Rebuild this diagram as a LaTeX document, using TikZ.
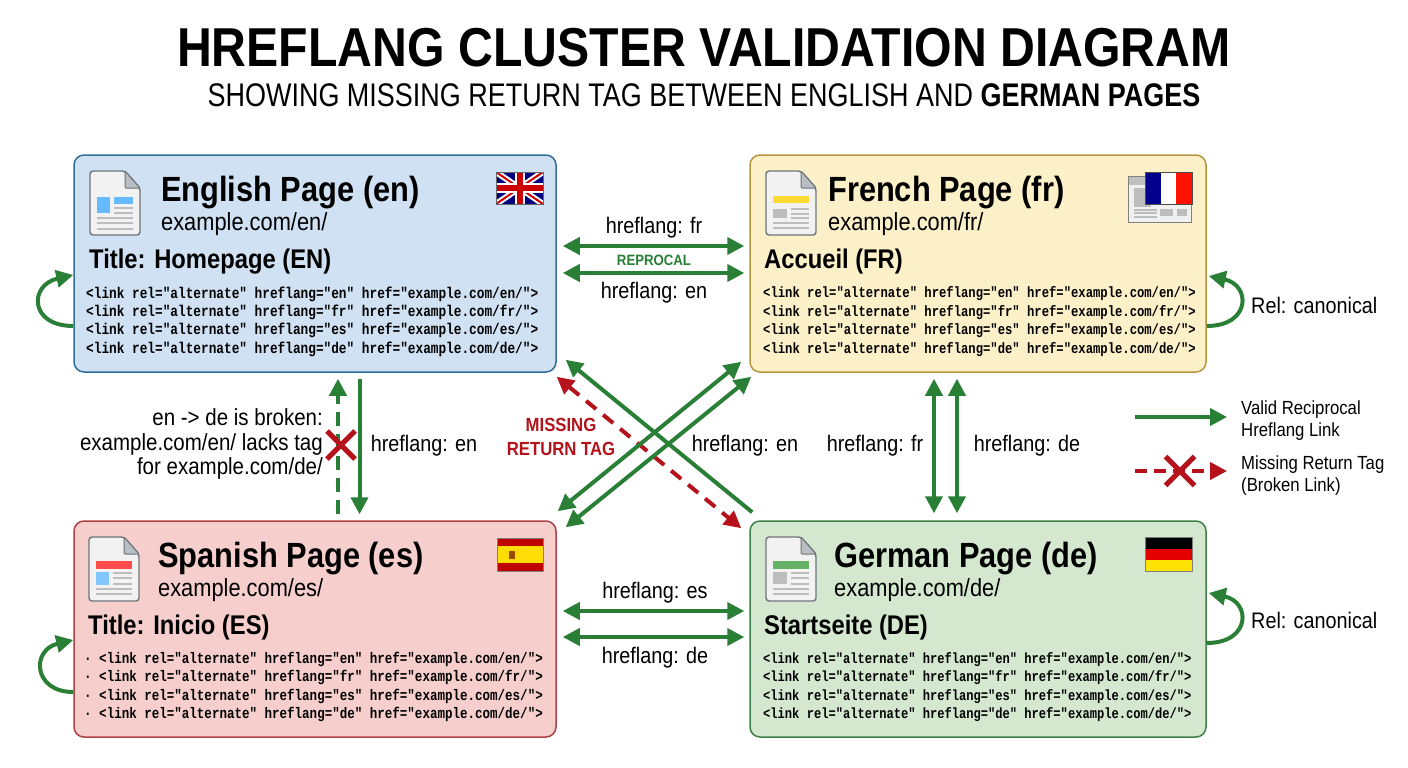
\documentclass[tikz,border=0pt]{standalone}
\usepackage{fontspec}
\setmainfont{Liberation Sans}
\newfontfamily\narrowfont[FakeStretch=0.88]{Liberation Sans}
\newfontfamily\subtitlefont[FakeStretch=0.825]{Liberation Sans}
\newfontfamily\codefont[FakeStretch=0.82]{Liberation Mono}
\usetikzlibrary{arrows.meta,shapes.misc}
\definecolor{linkgreen}{HTML}{2A7F36}
\definecolor{brokenred}{HTML}{B5121B}
\definecolor{iconedge}{HTML}{6E7479}
\definecolor{iconfold}{HTML}{B9BEC3}
\definecolor{icongrey}{HTML}{BDBDBD}
\definecolor{enfill}{HTML}{CFE1F2}
\definecolor{enedge}{HTML}{2F6F9A}
\definecolor{frfill}{HTML}{FCF0C9}
\definecolor{fredge}{HTML}{B8963E}
\definecolor{esfill}{HTML}{F6CFCD}
\definecolor{esedge}{HTML}{AD4245}
\definecolor{defill}{HTML}{D4E8CF}
\definecolor{deedge}{HTML}{3F8048}
% outline of the document icon, drawn from its top left corner
\newcommand{\pageicon}{%
  \draw[iconedge,line width=1.4pt,fill=gray!10,rounded corners=3pt] (0,0) -- (35,0) -- (50,17) -- (50,64) -- (0,64) -- cycle;
  \draw[iconedge,line width=1pt,fill=iconfold,rounded corners=1pt] (35,0) -- (35,17) -- (50,17) -- cycle;
}
\newcommand{\iconlines}[3]{%
  \foreach \ly in {#3} \draw[icongrey,line width=1.4pt] (#1,\ly) -- (#2,\ly);
}
\begin{document}
\begin{tikzpicture}[x=1pt,y=-1pt]
        \tikzstyle{pagebox} = [draw,rounded corners=10pt,line width=1.5pt,minimum width=482pt,minimum height=217pt,inner sep=0pt]
        \tikzstyle{heading} = [anchor=base west,inner sep=0pt,font=\narrowfont\fontsize{35}{38}\selectfont\bfseries]
        \tikzstyle{urltext} = [anchor=base west,inner sep=0pt,font=\narrowfont\fontsize{24.8}{28}\selectfont]
        \tikzstyle{subtext} = [anchor=base west,inner sep=0pt,font=\narrowfont\fontsize{27}{30}\selectfont\bfseries]
        \tikzstyle{codetext} = [anchor=west,inner sep=0pt,align=left,font=\codefont\fontsize{#1}{18.4}\selectfont\bfseries]
        \tikzstyle{linktext} = [inner sep=0pt,font=\narrowfont\fontsize{22.5}{24.5}\selectfont]
        \tikzstyle{keytext} = [anchor=west,inner sep=0pt,align=left,font=\narrowfont\fontsize{19}{22}\selectfont]
        \tikzstyle{link} = [linkgreen,line width=4pt,-{Triangle[length=17pt,width=17pt]}]
        \tikzstyle{twoway} = [linkgreen,line width=4pt,{Triangle[length=17pt,width=17pt]}-{Triangle[length=17pt,width=17pt]}]
        \tikzstyle{redx} = [draw=brokenred,cross out,line width=5pt,minimum size=23pt,inner sep=0pt]

        \useasboundingbox (0,0) rectangle (1408,768);
        \fill[white] (0,0) rectangle (1408,768);

        % title
        \node[inner sep=0pt,font=\narrowfont\fontsize{54.8}{58}\selectfont\bfseries] (title) at (704,48) {HREFLANG CLUSTER VALIDATION DIAGRAM};
        \node[inner sep=0pt,font=\subtitlefont\fontsize{32.7}{36}\selectfont] (subtitle) at (704,95) {SHOWING MISSING RETURN TAG BETWEEN ENGLISH AND \textbf{GERMAN PAGES}};

        % the four pages
        \node[pagebox,draw=enedge,fill=enfill] (en) at (315,263.5) {};
        \node[pagebox,draw=fredge,fill=frfill,minimum width=456pt] (fr) at (978,263.5) {};
        \node[pagebox,draw=esedge,fill=esfill,minimum height=216pt] (es) at (315,629) {};
        \node[pagebox,draw=deedge,fill=defill,minimum width=456pt,minimum height=216pt] (de) at (978,629) {};

        \node[heading] (enhead) at (161,201) {English Page (en)};
        \node[urltext] (enurl) at (161,230.5) {example.com/en/};
        \node[subtext] (ensub) at (89,268.5) {Title: Homepage (EN)};
        \node[codetext=15.57] (encode) at (86,321.5) {<link rel="alternate" hreflang="en" href="example.com/en/">\\<link rel="alternate" hreflang="fr" href="example.com/fr/">\\<link rel="alternate" hreflang="es" href="example.com/es/">\\<link rel="alternate" hreflang="de" href="example.com/de/">};

        \node[heading] (frhead) at (828,201) {French Page (fr)};
        \node[urltext] (frurl) at (828,230.5) {example.com/fr/};
        \node[subtext] (frsub) at (764,268.5) {Accueil (FR)};
        \node[codetext=14.9] (frcode) at (763,321.5) {<link rel="alternate" hreflang="en" href="example.com/en/">\\<link rel="alternate" hreflang="fr" href="example.com/fr/">\\<link rel="alternate" hreflang="es" href="example.com/es/">\\<link rel="alternate" hreflang="de" href="example.com/de/">};

        \node[heading] (eshead) at (158,567) {Spanish Page (es)};
        \node[urltext] (esurl) at (158,596.5) {example.com/es/};
        \node[subtext] (essub) at (88,634.5) {Title: Inicio (ES)};
        \node[codetext=15.28] (escode) at (84,687) {· <link rel="alternate" hreflang="en" href="example.com/en/">\\· <link rel="alternate" hreflang="fr" href="example.com/fr/">\\· <link rel="alternate" hreflang="es" href="example.com/es/">\\· <link rel="alternate" hreflang="de" href="example.com/de/">};

        \node[heading] (dehead) at (834,567) {German Page (de)};
        \node[urltext] (deurl) at (834,596.5) {example.com/de/};
        \node[subtext] (desub) at (764,634.5) {Startseite (DE)};
        \node[codetext=14.75] (decode) at (763,687) {<link rel="alternate" hreflang="en" href="example.com/en/">\\<link rel="alternate" hreflang="fr" href="example.com/fr/">\\<link rel="alternate" hreflang="es" href="example.com/es/">\\<link rel="alternate" hreflang="de" href="example.com/de/">};

        % document icons
        \begin{scope}[shift={(90,171)}]
                \pageicon
                \fill[blue!45!cyan!60] (7,26) rectangle (20,42);
                \fill[blue!45!cyan!60] (24,26) rectangle (43,33);
                \iconlines{24}{43}{37,42}
                \iconlines{7}{43}{47,52,58}
        \end{scope}
        \begin{scope}[shift={(766,171)}]
                \pageicon
                \fill[yellow!70!orange!80] (7,25) rectangle (43,32);
                \fill[icongrey] (7,38) rectangle (21,47);
                \iconlines{25}{43}{38,43,47}
                \iconlines{7}{43}{52,57}
        \end{scope}
        \begin{scope}[shift={(89,537)}]
                \pageicon
                \fill[red!70!white] (7,24) rectangle (43,32);
                \fill[blue!45!cyan!50] (7,35) rectangle (20,48);
                \iconlines{24}{43}{36,41,47}
                \iconlines{7}{43}{52,57}
        \end{scope}
        \begin{scope}[shift={(766,537)}]
                \pageicon
                \fill[green!50!black!60!white] (7,24) rectangle (43,32);
                \fill[icongrey] (7,35) rectangle (21,47);
                \iconlines{25}{43}{36,41,47}
                \iconlines{7}{43}{52,57}
        \end{scope}

        % flags
        \begin{scope}
                \clip (496,172) rectangle (543,204);
                \fill[blue!50!black] (496,172) rectangle (543,204);
                \draw[white,line width=6pt] (496,172) -- (543,204) (496,204) -- (543,172);
                \draw[red!80!black,line width=2pt] (496,172) -- (543,204) (496,204) -- (543,172);
                \draw[white,line width=10pt] (519.5,172) -- (519.5,204) (496,188) -- (543,188);
                \draw[red!80!black,line width=6pt] (519.5,172) -- (519.5,204) (496,188) -- (543,188);
        \end{scope}
        \draw[black!60,line width=.6pt] (496,172) rectangle (543,204);

        \fill[gray!12] (1128,176) rectangle (1191,222);
        \fill[gray!50] (1128,176) rectangle (1191,185);
        \fill[icongrey] (1134,188) rectangle (1151,207);
        \fill[icongrey] (1160,209) rectangle (1173,216);
        \fill[icongrey] (1177,209) rectangle (1187,216);
        \iconlines{1134}{1157}{210,213,217}
        \draw[gray,line width=1pt] (1128,176) rectangle (1191,222);
        \fill[blue!55!black] (1145,172) rectangle (1161,204);
        \fill[white] (1161,172) rectangle (1176,204);
        \fill[red!85!orange] (1176,172) rectangle (1192,204);
        \draw[black!70,line width=.6pt] (1145,172) rectangle (1192,204);

        \fill[red!75!black] (497,538) rectangle (543,571);
        \fill[yellow!80!orange] (497,546) rectangle (543,563);
        \fill[orange!60!black] (509,551) rectangle (515,559);
        \draw[black!50,line width=.6pt] (497,538) rectangle (543,571);

        \fill[black] (1145,537) rectangle (1192,549);
        \fill[red!90!black] (1145,549) rectangle (1192,560);
        \fill[yellow!85!orange] (1145,560) rectangle (1192,571);
        \draw[black!50,line width=.6pt] (1145,537) rectangle (1192,571);

        % links between pages
        \path[twoway]
                ([shift={(6,-17.5)}]en.east) edge ([shift={(-5,-17.5)}]fr.west)
                ([shift={(6,9.5)}]en.east) edge ([shift={(-5,9.5)}]fr.west)
                ([shift={(6,-18)}]es.east) edge ([shift={(-5,-18)}]de.west)
                ([shift={(6,8)}]es.east) edge ([shift={(-5,8)}]de.west)
                ([shift={(-44,6)}]fr.south) edge ([shift={(-44,-7)}]de.north)
                ([shift={(-21,6)}]fr.south) edge ([shift={(-21,-7)}]de.north);
        \draw[brokenred,line width=4pt,dash pattern=on 13pt off 9pt,{Triangle[length=17pt,width=17pt]}-{Triangle[length=17pt,width=17pt]}]
                ([shift={(0,4)}]en.south east) -- ([shift={(-8,8)}]de.north west);
        \path[twoway]
                ([shift={(-8,-11)}]fr.south west) edge ([shift={(1,-9)}]es.north east)
                ([shift={(2,4)}]fr.south west) edge ([shift={(9,7)}]es.north east);
        \path[link]
                ([shift={(3,-8)}]de.north west) edge ([shift={(9,-13)}]en.south east)
                ([shift={(44.5,6)}]en.south) edge ([shift={(44.5,-6)}]es.north);
        \draw[linkgreen,line width=4pt,dash pattern=on 14pt off 8pt,-{Triangle[length=17pt,width=17pt]}]
                ([shift={(23,-6)}]es.north) -- ([shift={(23,6)}]en.south);
        \node[redx] (brokenx) at (341,445) {};

        % self links
        \draw[link] ([yshift=-62.5pt]en.west) .. controls (29,326) and (29,285) .. ([yshift=-11.5pt]en.west);
        \draw[link] ([yshift=-62.5pt]fr.east) .. controls (1251,326) and (1251,285) .. ([shift={(2,12.5)}]fr.east);
        \draw[link] ([yshift=-63pt]es.west) .. controls (33,692) and (31,650) .. ([yshift=-11pt]es.west);
        \draw[link] ([yshift=-14pt]de.east) .. controls (1251,643) and (1251,602) .. ([shift={(2,-36)}]de.east);

        % labels on the links
        \node[linktext] (fronen) at (654,228) {hreflang: fr};
        \node[inner sep=0pt,text=linkgreen,font=\narrowfont\fontsize{15}{18}\selectfont\bfseries] (reprocal) at (654,260) {REPROCAL};
        \node[linktext] (enonfr) at (654,293) {hreflang: en};
        \node[linktext] (esonde) at (655,593) {hreflang: es};
        \node[linktext] (deones) at (655,658) {hreflang: de};
        \node[linktext,anchor=east,align=right,font=\narrowfont\fontsize{23.3}{24.5}\selectfont] (brokennote) at (323,444) {en -> de is broken:\\example.com/en/ lacks tag\\for example.com/de/};
        \node[linktext] (enones) at (424,446) {hreflang: en};
        \node[inner sep=0pt,align=center,text=brokenred,font=\narrowfont\fontsize{19}{24}\selectfont\bfseries] (missing) at (561,437) {MISSING\\RETURN TAG};
        \node[linktext] (enonde) at (745,446) {hreflang: en};
        \node[linktext] (fronde) at (875,446) {hreflang: fr};
        \node[linktext] (deonfr) at (1027,446) {hreflang: de};
        \node[linktext,anchor=west] (frcanon) at (1251,305) {Rel: canonical};
        \node[linktext,anchor=west] (decanon) at (1251,620) {Rel: canonical};

        % legend
        \coordinate (validfrom) at (1135,417);
        \coordinate (validto) at (1227,417);
        \coordinate (brokenfrom) at (1135,471);
        \coordinate (brokento) at (1227,471);
        \draw[link] (validfrom) -- (validto);
        \draw[brokenred,line width=4pt,dash pattern=on 12pt off 7pt,-{Triangle[length=17pt,width=17pt]}] (brokenfrom) -- (brokento);
        \node[redx,minimum size=24pt,fill=white] (keyx) at (1180,471) {};
        \node[keytext] (validkey) at (1241,421) {Valid Reciprocal\\Hreflang Link};
        \node[keytext] (brokenkey) at (1241,476) {Missing Return Tag\\(Broken Link)};
\end{tikzpicture}
\end{document}
